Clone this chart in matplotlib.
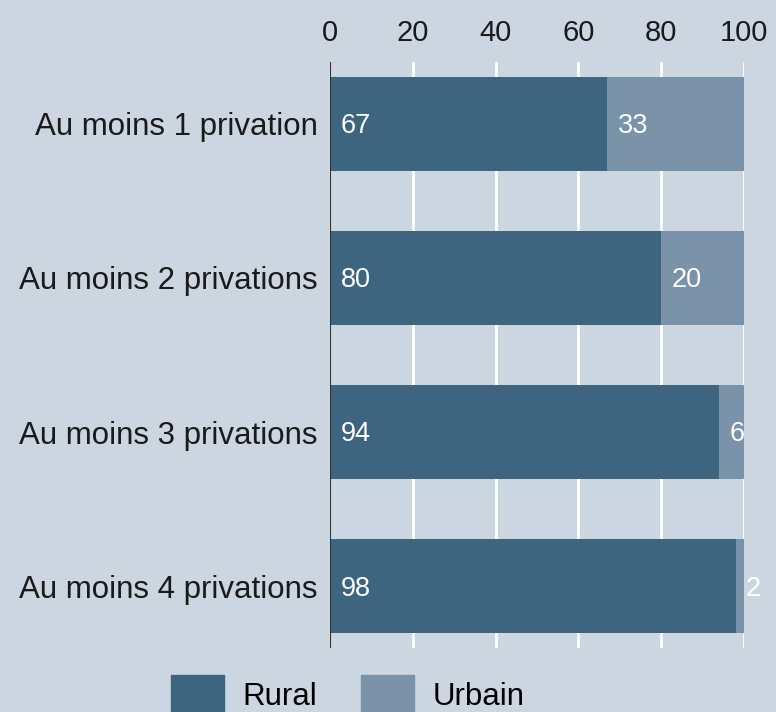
import matplotlib
matplotlib.use("Agg")
import matplotlib.pyplot as plt
from matplotlib.patches import Patch

plt.rcParams['font.family'] = ['Liberation Sans', 'DejaVu Sans']

categories = ["Au moins 1 privation", "Au moins 2 privations",
              "Au moins 3 privations", "Au moins 4 privations"]
rural = [67, 80, 94, 98]
urbain = [33, 20, 6, 2]
xticks = [0, 20, 40, 60, 80, 100]

bg = "#cbd6e0"
c_rural = "#3d6580"
c_urbain = "#7b93a8"

fig = plt.figure(figsize=(7.76, 7.12), dpi=100, facecolor=bg)
ax = fig.add_axes([0.4253, 0.0899, 0.5335, 0.823])
ax.set_facecolor(bg)

pos = list(range(len(categories)))
ax.barh(pos, rural, height=0.61, color=c_rural, zorder=3)
ax.barh(pos, urbain, left=rural, height=0.61, color=c_urbain, zorder=3)

for i in pos:
    ax.text(2.5, i + 0.015, str(rural[i]), color="white", fontsize=19.5,
            va="center", ha="left", zorder=4)
    ax.text(rural[i] + 2.5, i + 0.015, str(urbain[i]), color="white", fontsize=19.5,
            va="center", ha="left", zorder=4, clip_on=False)

ax.set_xlim(0, 100)
ax.set_ylim(3.4, -0.4)
ax.set_yticks(pos)
ax.set_yticklabels(categories, fontsize=22.5, color="#1a1a1a")
ax.set_xticks(xticks)
ax.set_xticklabels([str(t) for t in xticks], fontsize=21, color="#1a1a1a")
ax.xaxis.tick_top()
ax.tick_params(axis="both", length=0)
ax.tick_params(axis="x", pad=11)
ax.tick_params(axis="y", pad=9)
for s in ax.spines.values():
    s.set_visible(False)
for t in xticks[1:]:
    ax.axvline(t, color="white", lw=2, zorder=1)
ax.axvline(0, color="#333333", lw=1.5, zorder=5)

handles = [Patch(color=c_rural, label="Rural"), Patch(color=c_urbain, label="Urbain")]
fig.legend(handles=handles, loc="center", bbox_to_anchor=(0.448, 0.025), ncol=2,
           frameon=False, fontsize=22.5, handlelength=1.7, handleheight=1.5,
           handletextpad=0.6, columnspacing=1.4, borderpad=0)

fig.savefig("out.png", dpi=100, facecolor=bg)
